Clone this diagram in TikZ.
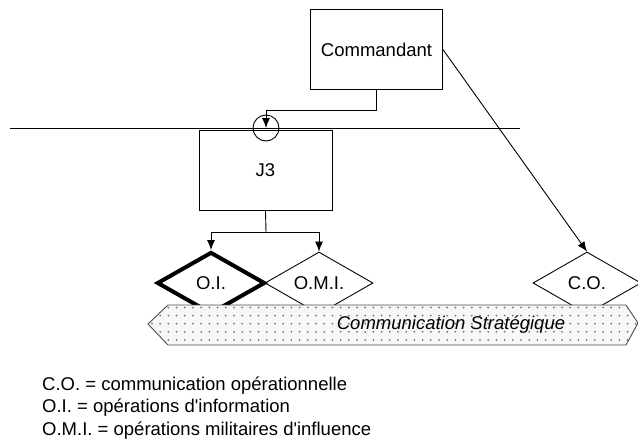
\documentclass[tikz,border=0pt]{standalone}
\usepackage{fontspec}
\setmainfont{Liberation Sans}
\usetikzlibrary{shapes.geometric,arrows.meta}

\tikzset{
  thin line/.style={line width=0.9pt},
  box/.style={draw, thin line, minimum width=132pt, minimum height=80pt, inner sep=0pt},
  op/.style={diamond, draw, thin line, aspect=1.74, minimum width=108pt,
             minimum height=62pt, inner sep=0pt},
  flow/.style={thin line, -{Latex[length=10pt,width=8pt]}},
  legend/.style={anchor=base west, inner sep=0pt},
}

\begin{document}
\begin{tikzpicture}[x=1pt, y=-1pt, font=\fontsize{18.5}{22.5}\selectfont]
\useasboundingbox (0,0) rectangle (638,439);

% command chain
\node[box] (cmd) at (376.5,49.5) {Commandant};
\node[box, minimum width=133pt] (j3) at (265.5,170) {J3};

% level line with the junction
\coordinate (hl) at (10,128);
\coordinate (hr) at (520,128);
\draw[thin line] (hl) -- (hr);
\node[circle, draw, thin line, minimum size=26pt, inner sep=0pt] (jn) at (266,128) {};
\draw[flow] (cmd.south) -- ++(0,20) -| (jn.center);

% operations
\node[op] (omi) at (319,283) {O.M.I.};
\node[op, line width=4pt] (oi) at (211,283) {O.I.};
\node[op] (co) at (587,283) {C.O.};

\coordinate (split) at (266,232);
\draw[thin line] (j3.south) -- (split);
\draw[flow] (split) -| (oi.north);
\draw[flow] (split) -| (omi.north);
\draw[flow] (cmd.east) -- (co.north);

% strategic communication banner
\coordinate (b1) at (148,324);
\coordinate (b2) at (168,305);
\coordinate (b3) at (626,305);
\coordinate (b4) at (638,323);
\coordinate (b5) at (626,345);
\coordinate (b6) at (168,345);
\fill[black!3] (b1) -- (b2) -- (b3) -- (b4) -- (b5) -- (b6) -- cycle;
\begin{scope}
  \clip (b1) -- (b2) -- (b3) -- (b4) -- (b5) -- (b6) -- cycle;
  \foreach \x in {152,160.2,...,640}
    \foreach \y in {307.5,315.6,...,346}
      \fill[black!55] (\x,\y) circle (1pt);
\end{scope}
\draw[thin line, black!70] (b1) -- (b2) -- (b3) -- (b4) -- (b5) -- (b6) -- cycle;
\node[font=\fontsize{18.5}{22.5}\selectfont\itshape, inner sep=0pt] (cs) at (451,325)
  {Communication Stratégique};

% legend
\node[legend] (l1) at (42,390) {C.O. = communication opérationnelle};
\node[legend] (l2) at (42,412.5) {O.I. = opérations d\textquotesingle information};
\node[legend] (l3) at (42,435) {O.M.I. = opérations militaires d\textquotesingle influence};
\end{tikzpicture}
\end{document}
